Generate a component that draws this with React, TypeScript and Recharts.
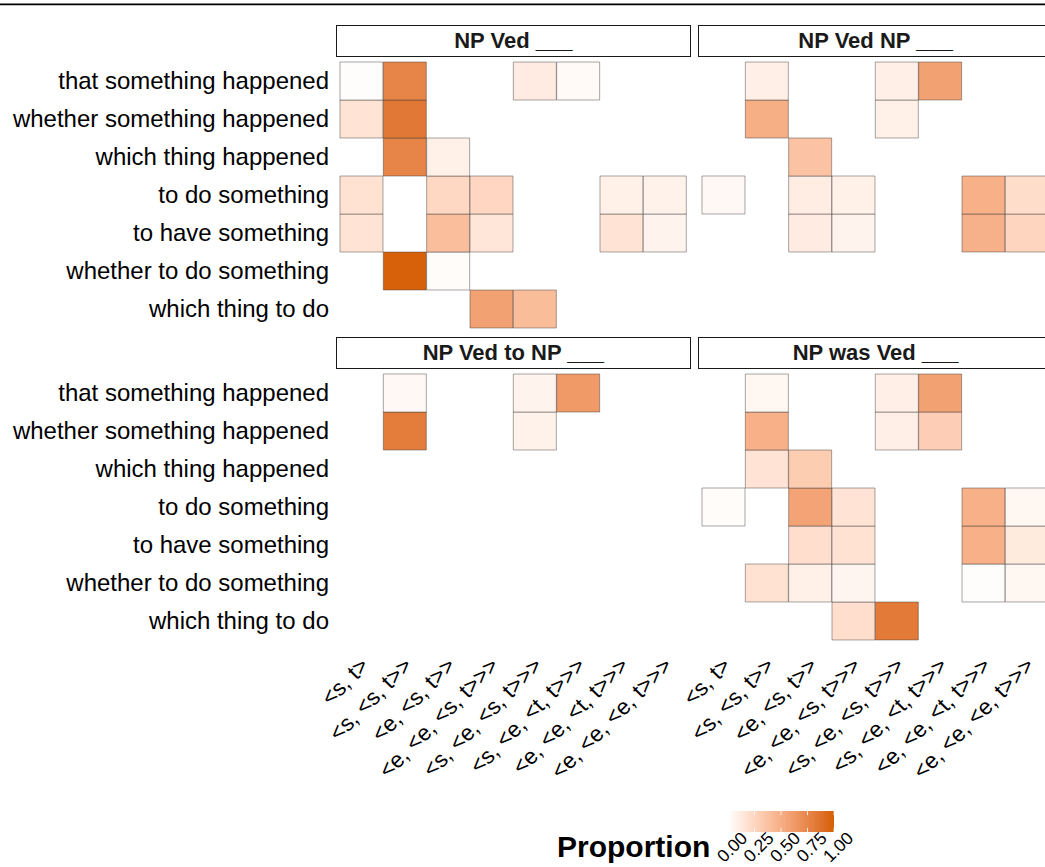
import React from 'react';
import { BarChart, Bar, XAxis, YAxis, Cell } from 'recharts';

// ---------- data ----------
const rowLabels = [
  'that something happened',
  'whether something happened',
  'which thing happened',
  'to do something',
  'to have something',
  'whether to do something',
  'which thing to do',
];
const colLabels = [
  '<s, t>',
  '<s, <s, t>>',
  '<e, <s, t>>',
  '<e, <e, <s, t>>>',
  '<s, <e, <s, t>>>',
  '<s, <e, <t, t>>>',
  '<e, <e, <t, t>>>',
  '<e, <e, <e, t>>>',
];
const panelTitles = ['NP Ved ___', 'NP Ved NP ___', 'NP Ved to NP ___', 'NP was Ved ___'];
const legendTicks = [0, 0.25, 0.5, 0.75, 1];
const legendTitle = 'Proportion';

const _ = null;
const npVed = [
  [0.01, 0.76, _, _, 0.12, 0.03, _, _],
  [0.17, 0.84, _, _, _, _, _, _],
  [_, 0.76, 0.09, _, _, _, _, _],
  [0.18, _, 0.24, 0.25, _, _, 0.09, 0.08],
  [0.17, _, 0.4, 0.15, _, _, 0.17, 0.07],
  [_, 0.98, 0.02, _, _, _, _, _],
  [_, _, _, 0.58, 0.41, _, _, _],
];
const npVedNp = [
  [_, 0.1, _, _, 0.1, 0.58, _, _],
  [_, 0.5, _, _, 0.09, _, _, _],
  [_, _, 0.37, _, _, _, _, _],
  [0.04, _, 0.11, 0.09, _, _, 0.49, 0.21],
  [_, _, 0.12, 0.07, _, _, 0.48, 0.26],
  [_, _, _, _, _, _, _, _],
  [_, _, _, _, _, _, _, _],
];
const npVedToNp = [
  [_, 0.04, _, _, 0.07, 0.63, _, _],
  [_, 0.81, _, _, 0.08, _, _, _],
  [_, _, _, _, _, _, _, _],
  [_, _, _, _, _, _, _, _],
  [_, _, _, _, _, _, _, _],
  [_, _, _, _, _, _, _, _],
  [_, _, _, _, _, _, _, _],
];
const npWasVed = [
  [_, 0.05, _, _, 0.1, 0.58, _, _],
  [_, 0.49, _, _, 0.1, 0.3, _, _],
  [_, 0.17, 0.31, _, _, _, _, _],
  [0.02, _, 0.57, 0.17, _, _, 0.49, 0.05],
  [_, _, 0.2, 0.18, _, _, 0.49, 0.13],
  [_, 0.18, 0.09, 0.06, _, _, 0.01, 0.05],
  [_, _, _, 0.2, 0.83, _, _, _],
];

// ---------- colour scale (CIELAB interpolation, white -> #D55E00) ----------
const FONT = '"Liberation Sans", Arial, Helvetica, sans-serif';
const LOW_RGB = [255, 255, 255];
const HIGH_RGB = [213, 94, 0];
const WHITE_REF = [0.95047, 1, 1.08883];
const toLin = (c: number) => {
  const s = c / 255;
  return s <= 0.04045 ? s / 12.92 : Math.pow((s + 0.055) / 1.055, 2.4);
};
const fromLin = (l: number) => {
  const v = l <= 0.0031308 ? 12.92 * l : 1.055 * Math.pow(l, 1 / 2.4) - 0.055;
  return Math.max(0, Math.min(255, Math.round(v * 255)));
};
const rgbToLab = (rgb: number[]) => {
  const [r, g, b] = rgb.map(toLin);
  const X = (0.4124 * r + 0.3576 * g + 0.1805 * b) / WHITE_REF[0];
  const Y = (0.2126 * r + 0.7152 * g + 0.0722 * b) / WHITE_REF[1];
  const Z = (0.0193 * r + 0.1192 * g + 0.9505 * b) / WHITE_REF[2];
  const f = (t: number) => (t > 0.008856 ? Math.cbrt(t) : 7.787 * t + 16 / 116);
  const fx = f(X), fy = f(Y), fz = f(Z);
  return [116 * fy - 16, 500 * (fx - fy), 200 * (fy - fz)];
};
const labToRgb = (lab: number[]) => {
  const [L, a, bb] = lab;
  const fy = (L + 16) / 116;
  const fx = fy + a / 500;
  const fz = fy - bb / 200;
  const inv = (t: number) => (t * t * t > 0.008856 ? t * t * t : (t - 16 / 116) / 7.787);
  const X = inv(fx) * WHITE_REF[0];
  const Y = inv(fy) * WHITE_REF[1];
  const Z = inv(fz) * WHITE_REF[2];
  const r = 3.2406 * X - 1.5372 * Y - 0.4986 * Z;
  const g = -0.9689 * X + 1.8758 * Y + 0.0415 * Z;
  const b = 0.0557 * X - 0.204 * Y + 1.057 * Z;
  return [fromLin(r), fromLin(g), fromLin(b)];
};
const LOW_LAB = rgbToLab(LOW_RGB);
const HIGH_LAB = rgbToLab(HIGH_RGB);
const colorOf = (v: number) => {
  const lab = LOW_LAB.map((l, i) => l + (HIGH_LAB[i] - l) * v);
  const c = labToRgb(lab);
  return `rgb(${c[0]},${c[1]},${c[2]})`;
};

// ---------- layout ----------
const PW = 346.67;
const PH = 266;
const LEFT_X = 340;
const RIGHT_X = 702.3;
const TOP_Y = 61.7;
const BOT_Y = 374.3;
const X_AXIS_H = 160;
const RIGHT_PAD = 40;

const XTick = (props: any) => {
  const { x, y, payload } = props;
  const ex = x + 8.5;
  const ey = y + 27;
  return (
    <text
      x={ex}
      y={ey}
      transform={`rotate(-45 ${ex} ${ey})`}
      textAnchor="end"
      fontSize={22.5}
      fontFamily={FONT}
      fill="#000"
    >
      {payload.value}
    </text>
  );
};

const YTick = (props: any) => {
  const { x, y, payload } = props;
  const label = rowLabels[rowLabels.length - 1 - Math.floor(payload.value)];
  return (
    <text x={x} y={y} dy="0.35em" textAnchor="end" fontSize={24} fontFamily={FONT} fill="#000">
      {label}
    </text>
  );
};

type PanelProps = {
  values: (number | null)[][];
  plotLeft: number;
  plotTop: number;
  showY: boolean;
  showX: boolean;
};

const Panel = ({ values, plotLeft, plotTop, showY, showX }: PanelProps) => {
  const data = colLabels.map((c) => {
    const o: any = { col: c };
    rowLabels.forEach((_r, ri) => {
      o['r' + ri] = 1;
    });
    return o;
  });
  const yW = showY ? plotLeft : 0;
  const marginLeft = showY ? 0 : RIGHT_PAD;
  const divLeft = showY ? 0 : plotLeft - RIGHT_PAD;
  const xH = showX ? X_AXIS_H : 0;
  const width = marginLeft + yW + PW + 1;
  const height = PH + xH + 2;
  const order = rowLabels.map((_r, i) => rowLabels.length - 1 - i);
  const yTicks = rowLabels.map((_r, i) => i + 0.5);
  return (
    <div style={{ position: 'absolute', left: divLeft, top: plotTop - 1 }}>
      <BarChart
        width={width}
        height={height}
        data={data}
        margin={{ top: 1, right: 1, bottom: 1, left: marginLeft }}
        barCategoryGap={0}
        barGap={0}
      >
        <XAxis
          dataKey="col"
          type="category"
          hide={!showX}
          height={xH}
          axisLine={false}
          tickLine={false}
          tickSize={0}
          tickMargin={0}
          interval={0}
          tick={<XTick />}
        />
        <YAxis
          type="number"
          domain={[0, rowLabels.length]}
          ticks={yTicks}
          hide={!showY}
          width={yW}
          axisLine={false}
          tickLine={false}
          tickSize={0}
          tickMargin={11}
          tick={<YTick />}
        />
        {order.map((ri) => (
          <Bar key={ri} dataKey={'r' + ri} stackId="s" isAnimationActive={false}>
            {colLabels.map((_c, ci) => {
              const v = values[ri][ci];
              return v === null ? (
                <Cell key={ci} fill="none" stroke="none" />
              ) : (
                <Cell
                  key={ci}
                  fill={colorOf(v)}
                  stroke="#3a3a3a"
                  strokeOpacity={0.45}
                  strokeWidth={1}
                />
              );
            })}
          </Bar>
        ))}
      </BarChart>
    </div>
  );
};

const Strip = ({ title, plotLeft, plotTop }: { title: string; plotLeft: number; plotTop: number }) => (
  <div
    style={{
      position: 'absolute',
      left: plotLeft - 4,
      top: plotTop - 37,
      width: PW + 8,
      height: 32,
      boxSizing: 'border-box',
      border: '1.4px solid #1a1a1a',
      background: '#fff',
      fontFamily: FONT,
      fontWeight: 'bold',
      fontSize: 22,
      color: '#1a1a1a',
      display: 'flex',
      alignItems: 'center',
      justifyContent: 'center',
      whiteSpace: 'pre',
    }}
  >
    {title}
  </div>
);

const LEG_X = 728;
const LEG_W = 106;
const LEG_Y = 811;
const LEG_H = 21;
const LEG_LABEL_Y = 847;

const Legend = () => {
  const sx = (v: number) => LEG_X + v * LEG_W;
  const stops = Array.from({ length: 11 }, (_v, i) => i / 10);
  return (
    <svg style={{ position: 'absolute', left: 0, top: 0 }} width={1045} height={867}>
      <defs>
        <linearGradient id="propGrad" x1="0" x2="1" y1="0" y2="0">
          {stops.map((t) => (
            <stop key={t} offset={t} stopColor={colorOf(t)} />
          ))}
        </linearGradient>
      </defs>
      <line x1={0} x2={1045} y1={4.3} y2={4.3} stroke="#000" strokeWidth={1.8} />
      <text x={557} y={857} fontSize={30} fontWeight="bold" fontFamily={FONT} fill="#000">
        {legendTitle}
      </text>
      <rect x={LEG_X} y={LEG_Y} width={LEG_W} height={LEG_H} fill="url(#propGrad)" />
      {legendTicks.map((t) => (
        <g key={t}>
          <line x1={sx(t)} x2={sx(t)} y1={LEG_Y} y2={LEG_Y + LEG_H / 5} stroke="#fff" strokeWidth={1} strokeOpacity={0.8} />
          <line x1={sx(t)} x2={sx(t)} y1={LEG_Y + LEG_H * 0.8} y2={LEG_Y + LEG_H} stroke="#fff" strokeWidth={1} strokeOpacity={0.8} />
          <text
            x={sx(t) + 4}
            y={LEG_LABEL_Y}
            dy="0.35em"
            transform={`rotate(-45 ${sx(t) + 4} ${LEG_LABEL_Y})`}
            textAnchor="middle"
            fontSize={17.5}
            fontFamily={FONT}
            fill="#000"
          >
            {t.toFixed(2)}
          </text>
        </g>
      ))}
    </svg>
  );
};

export default function App() {
  return (
    <div
      style={{
        position: 'absolute',
        left: 0,
        top: 0,
        width: 1045,
        height: 867,
        overflow: 'hidden',
        background: '#fff',
      }}
    >
      <Legend />
      <Panel values={npVed} plotLeft={LEFT_X} plotTop={TOP_Y} showY={true} showX={false} />
      <Panel values={npVedNp} plotLeft={RIGHT_X} plotTop={TOP_Y} showY={false} showX={false} />
      <Panel values={npVedToNp} plotLeft={LEFT_X} plotTop={BOT_Y} showY={true} showX={true} />
      <Panel values={npWasVed} plotLeft={RIGHT_X} plotTop={BOT_Y} showY={false} showX={true} />
      <Strip title={panelTitles[0]} plotLeft={LEFT_X} plotTop={TOP_Y} />
      <Strip title={panelTitles[1]} plotLeft={RIGHT_X} plotTop={TOP_Y} />
      <Strip title={panelTitles[2]} plotLeft={LEFT_X} plotTop={BOT_Y} />
      <Strip title={panelTitles[3]} plotLeft={RIGHT_X} plotTop={BOT_Y} />
    </div>
  );
}
